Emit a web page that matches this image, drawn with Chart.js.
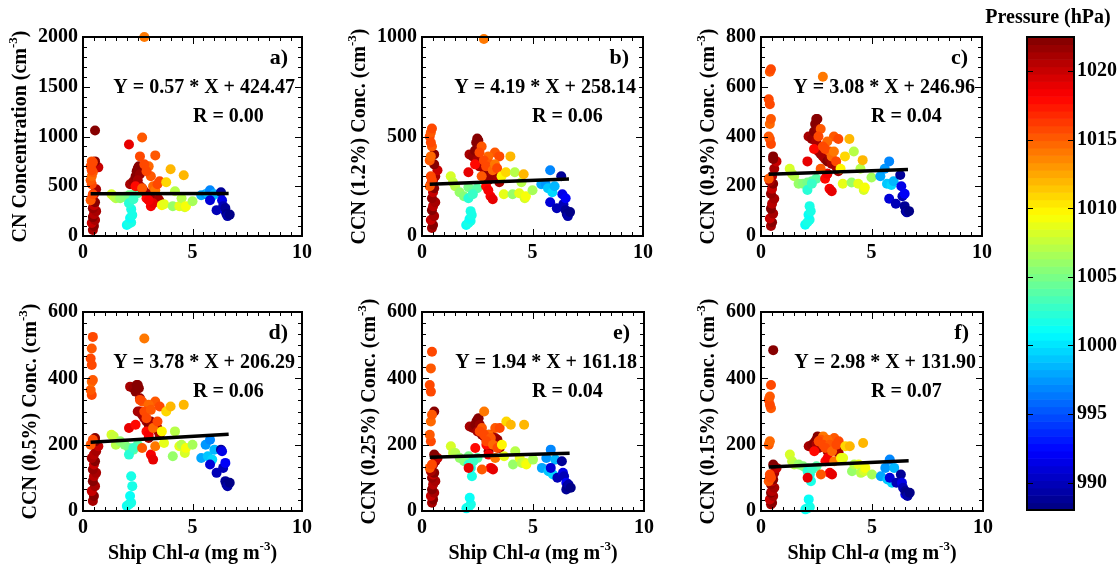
<!DOCTYPE html>
<html>
<head>
<meta charset="utf-8">
<script src="https://cdn.jsdelivr.net/npm/chart.js@4.4.0/dist/chart.umd.min.js"></script>
<style>
  body { margin: 0; background: #fff; width: 1120px; height: 568px; position: relative; overflow: hidden; }
  canvas { position: absolute; }
</style>
</head>
<body>
<script>
// Ship track samples: Chl-a (x), pressure (colour) and six aerosol counts (y)
// groups: dark red column | orange column | green | cyan | dark red cluster | red | orange | yellow | light blue | dark blue
const chl = [
  0.45, 0.5, 0.4, 0.55, 0.45, 0.5, 0.6, 0.45, 0.5, 0.55, 0.4, 0.5, 0.6, 0.7, 0.55, 0.55,
  0.35, 0.45, 0.4, 0.35, 0.4, 0.45, 0.4, 0.35, 0.4, 0.45,
  1.3, 1.4, 1.5, 1.7, 1.9, 2.1, 2.3, 2.5,
  2.0, 2.1, 2.2, 2.15, 2.25, 2.2, 2.1, 2.3,
  2.15, 2.3, 2.4, 2.45, 2.5, 2.55, 2.6, 2.5, 2.7, 2.8, 2.9, 3.0, 3.1, 3.2, 3.3, 3.4, 3.45, 3.5, 2.6, 3.0,
  2.1, 3.1, 3.2, 2.9, 3.0, 2.4,
  2.8, 2.7, 2.6, 3.3, 3.0, 2.8, 3.1, 3.5, 2.9, 3.2, 2.7, 3.3, 3.4,
  3.6, 3.7, 3.8, 4.0, 4.1, 4.2, 4.4, 4.5, 4.6, 4.65, 4.7, 5.0,
  5.4, 5.6, 5.7, 5.8, 5.9, 6.0,
  5.8, 6.1, 6.3, 6.35, 6.4, 6.5, 6.5, 6.55, 6.6, 6.7
];
const pressure = [
  1021, 1022, 1020, 1021, 1022, 1020.5, 1021, 1021.5, 1020, 1022, 1021, 1020.5, 1021, 1020, 1022, 1022,
  1015, 1015.5, 1016, 1015, 1014.5, 1015, 1016, 1015.5, 1015, 1016,
  1008, 1007.5, 1007, 1006, 1005.5, 1005, 1004.5, 1004,
  1001, 1001.5, 1002, 1001, 1002, 1001.5, 1002.5, 1003,
  1021, 1021.5, 1022, 1022, 1022, 1022, 1021.5, 1021, 1021.5, 1021, 1021, 1022, 1021.5, 1021, 1021, 1021.5, 1021, 1021, 1021, 1021.5,
  1019, 1018.5, 1019, 1018, 1018.5, 1018,
  1014, 1015, 1015.5, 1015, 1014.5, 1016, 1015, 1015.5, 1016, 1014.5, 1015, 1014, 1016,
  1010, 1009, 1011, 1012, 1006, 1007, 1009, 1007, 1012, 1008, 1009.5, 1006.5,
  998, 997.5, 999, 997, 999.5, 998.5,
  991, 990, 989, 991.5, 990, 992, 989, 988.5, 989.5, 988.5
];
const cn = [
  60, 100, 130, 160, 190, 220, 250, 280, 310, 340, 380, 420, 470, 690, 750, 1060,
  360, 420, 520, 560, 600, 640, 660, 700, 750, 740,
  420, 400, 380, 380, 395, 410, 420, 430,
  110, 125, 135, 180, 210, 270, 330, 370,
  520, 550, 600, 650, 680, 700, 620, 560, 480, 450, 420, 400, 420, 440, 390, 380, 370, 350, 500, 380,
  920, 300, 330, 380, 360, 500,
  2000, 990, 800, 810, 700, 720, 600, 550, 650, 500, 480, 460, 520,
  310, 320, 540, 670, 300, 450, 300, 380, 610, 290, 300, 350,
  410, 420, 430, 460, 400, 420,
  360, 260, 440, 360, 300, 250, 280, 220, 200, 215
];
const ccn12 = [
  40, 55, 80, 100, 130, 150, 170, 190, 220, 240, 260, 280, 300, 330, 360, 410,
  250, 280, 300, 380, 400, 450, 470, 500, 520, 540,
  300, 270, 250, 220, 200, 245, 225, 240,
  55, 65, 75, 85, 105, 125, 190, 210,
  410, 400, 430, 470, 490, 480, 440, 380, 360, 340, 330, 320, 310, 300, 310, 300, 290, 270, 350, 280,
  320, 200, 185, 250, 230, 360,
  990, 450, 420, 420, 400, 380, 360, 400, 350, 330, 300, 360, 340,
  300, 210, 320, 400, 210, 320, 215, 270, 310, 190, 200, 230,
  260, 260, 240, 330, 220, 250,
  170, 140, 300, 210, 160, 190, 130, 110, 100, 120
];
const ccn09 = [
  40, 55, 70, 90, 110, 130, 150, 170, 190, 210, 220, 240, 270, 300, 310, 320,
  230, 370, 390, 400, 450, 470, 530, 550, 660, 670,
  270, 250, 240, 210, 210, 215, 220, 230,
  45, 55, 65, 85, 100, 120, 185, 210,
  400, 390, 420, 450, 470, 470, 430, 380, 330, 320, 310, 300, 310, 290, 290, 280, 270, 260, 340, 250,
  300, 190, 180, 230, 250, 350,
  640, 430, 400, 400, 380, 360, 340, 390, 350, 320, 270, 340, 300,
  270, 210, 320, 390, 215, 340, 210, 270, 305, 185, 195, 235,
  240, 270, 210, 300, 205, 220,
  150, 130, 245, 200, 160, 170, 120, 100, 95, 100
];
const ccn05 = [
  30, 45, 60, 75, 90, 105, 115, 125, 140, 150, 160, 170, 180, 195, 210, 220,
  200, 215, 350, 365, 390, 395, 440, 460, 490, 525,
  230, 225, 200, 210, 200, 190, 185, 200,
  15, 20, 25, 45, 75, 105, 170, 190,
  375, 370, 360, 380, 380, 370, 340, 300, 290, 280, 270, 260, 270, 250, 260, 250, 240, 230, 300, 220,
  250, 170, 155, 240, 230, 260,
  520, 330, 335, 330, 320, 300, 305, 315, 280, 250, 190, 195, 270,
  240, 205, 300, 315, 165, 240, 195, 200, 320, 175, 190, 200,
  160, 200, 165, 215, 155, 185,
  140, 115, 185, 180, 130, 145, 90, 80, 75, 85
];
const ccn025 = [
  25, 35, 45, 55, 65, 80, 90, 100, 110, 115, 120, 140, 150, 160, 170, 300,
  130, 140, 210, 230, 270, 290, 360, 380, 430, 480,
  195, 175, 175, 160, 150, 165, 150, 160,
  8, 12, 20, 40, 105, 130, 140, 150,
  255, 250, 260, 270, 275, 280, 260, 240, 230, 225, 220, 230, 230, 210, 220, 215, 200, 190, 240, 180,
  130, 130, 125, 200, 170, 190,
  300, 250, 240, 250, 230, 230, 220, 250, 210, 200, 125, 160, 190,
  200, 165, 270, 260, 140, 180, 160, 145, 260, 145, 140, 155,
  130, 160, 120, 185, 110, 155,
  130, 100, 150, 115, 105, 85, 65, 75, 80, 70
];
const ccn015 = [
  20, 25, 35, 45, 55, 60, 70, 80, 90, 95, 100, 110, 115, 130, 140, 485,
  90, 100, 110, 200, 210, 310, 320, 335, 345, 380,
  170, 150, 140, 140, 135, 130, 128, 135,
  5, 8, 12, 35, 90, 110, 120, 125,
  195, 200, 205, 210, 215, 225, 210, 200, 205, 200, 210, 205, 200, 195, 190, 200, 185, 175, 190, 180,
  100, 115, 110, 150, 160, 180,
  225, 215, 210, 220, 215, 200, 200, 210, 190, 180, 110, 150, 200,
  160, 160, 195, 195, 120, 140, 140, 115, 205, 120, 130, 110,
  105, 130, 95, 155, 85, 130,
  100, 85, 110, 85, 70, 50, 60, 55, 45, 55
];

// panel settings
const panelSeries = [cn, ccn12, ccn09, ccn05, ccn025, ccn015];
const panelLabels = ["a)", "b)", "c)", "d)", "e)", "f)"];
const yNames = ["CN Concentration", "CCN (1.2%) Conc.", "CCN (0.9%) Conc.", "CCN (0.5%) Conc.", "CCN (0.25%) Conc.", "CCN (0.15%) Conc."];
const yMax = [2000, 1000, 800, 600, 600, 600];
const yStep = [500, 500, 200, 200, 200, 200];
const yMinorPerMajor = [5, 10, 5, 6, 6, 6];
const slopes = [0.57, 4.19, 3.08, 3.78, 1.94, 2.98];
const intercepts = [424.47, 258.14, 246.96, 206.29, 161.18, 131.90];
const rValues = ["0.00", "0.06", "0.04", "0.06", "0.04", "0.07"];
const fitX = [0.35, 6.65];
const xTicks = [0, 5, 10];
const pressureRange = [988, 1022.5];
const pressureTicks = [990, 995, 1000, 1005, 1010, 1015, 1020];

const FAMILY = '"Liberation Serif", "Times New Roman", serif';
const NBANDS = 64;

function clamp01(v) { return Math.max(0, Math.min(1, v)); }
function jet(t) {
  const r = clamp01(1.5 - Math.abs(4 * t - 3));
  const g = clamp01(1.5 - Math.abs(4 * t - 2));
  const b = clamp01(1.5 - Math.abs(4 * t - 1));
  return `rgb(${Math.round(r * 255)},${Math.round(g * 255)},${Math.round(b * 255)})`;
}
function pressureColor(p) {
  const t = (p - pressureRange[0]) / (pressureRange[1] - pressureRange[0]);
  const idx = Math.max(0, Math.min(NBANDS - 1, Math.floor(t * NBANDS)));
  return jet((idx + 0.5) / NBANDS);
}

// text with italic / superscript pieces
function drawRich(ctx, parts, x, y, size, align) {
  let total = 0;
  const items = parts.map(([t, s]) => {
    const font = s === "s" ? `bold ${Math.round(size * 0.65)}px ${FAMILY}`
      : s === "i" ? `italic bold ${size}px ${FAMILY}` : `bold ${size}px ${FAMILY}`;
    ctx.font = font;
    const w = ctx.measureText(t).width;
    total += w;
    return { t, s, font, w };
  });
  let cx = align === "center" ? x - total / 2 : align === "right" ? x - total : x;
  ctx.textAlign = "left";
  ctx.textBaseline = "middle";
  items.forEach((it) => {
    ctx.font = it.font;
    ctx.fillText(it.t, cx, it.s === "s" ? y - size * 0.38 : y);
    cx += it.w;
  });
}

const framePlugin = {
  id: "frame",
  afterDraw(chart, args, opts) {
    const { ctx, chartArea: a } = chart;
    const xs = chart.scales.x, ys = chart.scales.y;
    ctx.save();
    ctx.strokeStyle = "#000";
    ctx.lineWidth = 1;
    ctx.beginPath();
    for (let i = 0; i <= 20; i++) {
      const px = Math.round(xs.getPixelForValue(i * 0.5)) + 0.5;
      const len = i % 10 === 0 ? 7 : 4;
      ctx.moveTo(px, a.bottom); ctx.lineTo(px, a.bottom - len);
      ctx.moveTo(px, a.top); ctx.lineTo(px, a.top + len);
    }
    const n = (opts.yMax / opts.yStep) * opts.minor;
    for (let i = 0; i <= n; i++) {
      const py = Math.round(ys.getPixelForValue(i * opts.yStep / opts.minor)) + 0.5;
      const len = i % opts.minor === 0 ? 7 : 4;
      ctx.moveTo(a.left, py); ctx.lineTo(a.left + len, py);
      ctx.moveTo(a.right, py); ctx.lineTo(a.right - len, py);
    }
    ctx.stroke();
    ctx.lineWidth = 2;
    ctx.strokeRect(a.left, a.top, a.right - a.left, a.bottom - a.top);

    ctx.fillStyle = "#000";
    // panel letter, fit equation, R
    drawRich(ctx, [[opts.label, ""]], a.right - 14, a.top + 21, 22, "right");
    drawRich(ctx, [[`Y = ${opts.slope.toFixed(2)} * X + ${opts.intercept.toFixed(2)}`, ""]], a.right - 7, a.top + 51, 20, "right");
    drawRich(ctx, [[`R = ${opts.r}`, ""]], a.left + 110, a.top + 80, 20, "left");

    // y title
    ctx.save();
    ctx.translate(a.left - opts.titleOffset, (a.top + a.bottom) / 2);
    ctx.rotate(-Math.PI / 2);
    drawRich(ctx, [[opts.yName + " (cm", ""], ["-3", "s"], [")", ""]], 0, 0, 20, "center");
    ctx.restore();

    if (opts.xTitle) {
      drawRich(ctx, [["Ship Chl-", ""], ["a", "i"], [" (mg m", ""], ["-3", "s"], [")", ""]],
        (a.left + a.right) / 2, a.bottom + 43, 20, "center");
    }
    ctx.restore();
  },
};

// canvas placement for the 2x3 grid
const boxes = [
  { left: 0, top: 0, w: 330, h: 280, yw: 83, padR: 28, padT: 37, xh: 44 },
  { left: 340, top: 0, w: 330, h: 280, yw: 82, padR: 27, padT: 37, xh: 44 },
  { left: 680, top: 0, w: 320, h: 280, yw: 81, padR: 18, padT: 37, xh: 44 },
  { left: 0, top: 280, w: 330, h: 288, yw: 83, padR: 28, padT: 32, xh: 57 },
  { left: 340, top: 280, w: 330, h: 288, yw: 82, padR: 26, padT: 32, xh: 57 },
  { left: 680, top: 280, w: 320, h: 288, yw: 81, padR: 17, padT: 32, xh: 57 },
];

const tickFont = { family: FAMILY, size: 20, weight: "bold" };
const plainNumber = (v) => String(v);

function makeCanvas(left, top, w, h) {
  const c = document.createElement("canvas");
  c.width = w; c.height = h;
  c.style.left = left + "px"; c.style.top = top + "px";
  c.style.width = w + "px"; c.style.height = h + "px";
  document.body.appendChild(c);
  return c;
}

boxes.forEach((b, k) => {
  const canvas = makeCanvas(b.left, b.top, b.w, b.h);
  const ys = panelSeries[k];
  new Chart(canvas.getContext("2d"), {
    type: "scatter",
    data: {
      datasets: [
        {
          type: "line",
          data: fitX.map((x) => ({ x, y: slopes[k] * x + intercepts[k] })),
          borderColor: "#000",
          borderWidth: 3.5,
          pointRadius: 0,
          order: 0,
          clip: false,
        },
        {
          data: chl.map((x, i) => ({ x, y: ys[i] })),
          backgroundColor: pressure.map(pressureColor),
          borderWidth: 0,
          pointRadius: 5,
          order: 1,
          clip: false,
        },
      ],
    },
    options: {
      responsive: false,
      devicePixelRatio: 1,
      animation: false,
      events: [],
      layout: { padding: { left: 0, right: b.padR, top: b.padT, bottom: 0 } },
      plugins: {
        legend: { display: false },
        tooltip: { enabled: false },
        frame: {
          yMax: yMax[k], yStep: yStep[k], minor: yMinorPerMajor[k],
          label: panelLabels[k], slope: slopes[k], intercept: intercepts[k], r: rValues[k],
          yName: yNames[k], titleOffset: yMax[k] >= 1000 ? 62 : 52, xTitle: k >= 3,
        },
      },
      scales: {
        x: {
          type: "linear", min: 0, max: 10,
          afterBuildTicks: (s) => { s.ticks = xTicks.map((v) => ({ value: v })); },
          grid: { display: false, drawTicks: false },
          border: { display: false },
          ticks: { color: "#000", font: tickFont, padding: 5, maxRotation: 0, callback: plainNumber },
          afterFit: (s) => { s.height = b.xh; },
        },
        y: {
          type: "linear", min: 0, max: yMax[k],
          grid: { display: false, drawTicks: false },
          border: { display: false },
          ticks: { color: "#000", font: tickFont, padding: 5, stepSize: yStep[k], callback: plainNumber },
          afterFit: (s) => { s.width = b.yw; },
        },
      },
    },
    plugins: [framePlugin],
  });
});

// colour bar
const barPlugin = {
  id: "cbar",
  afterDraw(chart) {
    const { ctx, chartArea: a } = chart;
    const ys = chart.scales.y;
    const [p0, p1] = pressureRange;
    const step = (p1 - p0) / NBANDS;
    ctx.save();
    for (let i = 0; i < NBANDS; i++) {
      const yb = ys.getPixelForValue(p0 + i * step);
      const yt = ys.getPixelForValue(p0 + (i + 1) * step);
      ctx.fillStyle = jet((i + 0.5) / NBANDS);
      ctx.fillRect(a.left, yt, a.right - a.left, yb - yt + 0.6);
    }
    ctx.strokeStyle = "#000";
    ctx.lineWidth = 1;
    ctx.beginPath();
    pressureTicks.forEach((v) => {
      const py = Math.round(ys.getPixelForValue(v)) + 0.5;
      ctx.moveTo(a.left, py); ctx.lineTo(a.left + 6, py);
      ctx.moveTo(a.right, py); ctx.lineTo(a.right - 6, py);
    });
    ctx.stroke();
    ctx.lineWidth = 2;
    ctx.strokeRect(a.left, a.top, a.right - a.left, a.bottom - a.top);
    ctx.fillStyle = "#000";
    drawRich(ctx, [["Pressure (hPa)", ""]], a.left + 21, 18, 20, "center");
    ctx.restore();
  },
};

const barCanvas = makeCanvas(985, 0, 135, 568);
new Chart(barCanvas.getContext("2d"), {
  type: "scatter",
  data: { datasets: [{ data: [] }] },
  options: {
    responsive: false,
    devicePixelRatio: 1,
    animation: false,
    events: [],
    layout: { padding: { left: 42, right: 0, top: 37, bottom: 58 } },
    plugins: { legend: { display: false }, tooltip: { enabled: false } },
    scales: {
      x: { display: false, min: 0, max: 1 },
      y: {
        position: "right", min: pressureRange[0], max: pressureRange[1],
        afterBuildTicks: (s) => { s.ticks = pressureTicks.map((v) => ({ value: v })); },
        grid: { display: false, drawTicks: false },
        border: { display: false },
        ticks: { color: "#000", font: tickFont, padding: 3, callback: plainNumber },
        afterFit: (s) => { s.width = 46; },
      },
    },
  },
  plugins: [barPlugin],
});
</script>
</body>
</html>
